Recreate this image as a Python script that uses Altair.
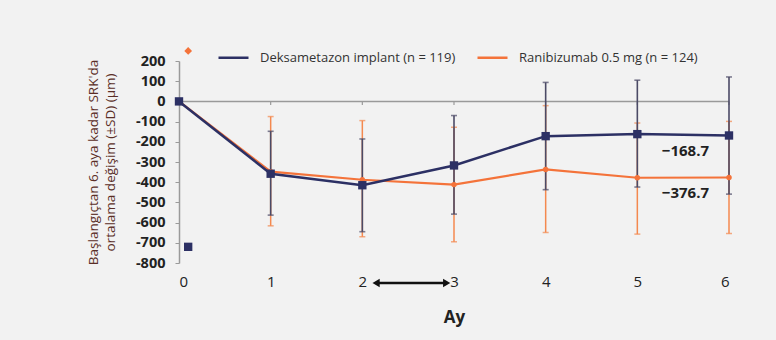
import altair as alt
import pandas as pd

months = [0, 1, 2, 3, 4, 5, 6]
dex_name = "Deksametazon implant (n = 119)"
ran_name = "Ranibizumab 0.5 mg (n = 124)"
dex_mean = [0, -358, -415, -317, -172, -162, -168.7]
dex_lo = [None, -563, -645, -558, -437, -424, -459]
dex_hi = [None, -148, -186, -70, 94, 105, 121]
ran_mean = [0, -348, -388, -412, -337, -378, -376.7]
ran_lo = [None, -616, -670, -695, -649, -657, -654]
ran_hi = [None, -75, -95, -128, -21, -107, -99]
end_labels = ["\u2212168.7", "\u2212376.7"]
y_ticks = list(range(-800, 201, 100))
stray_x = [0.1, 0.1]
stray_y = [250, -720]
arrow_x = [2.15, 2.92]

NAVY = "#2c3064"
ORANGE = "#f4733a"
FONT = "Open Sans"

dex = pd.DataFrame({"m": months, "v": dex_mean, "lo": dex_lo, "hi": dex_hi, "s": dex_name})
ran = pd.DataFrame({"m": months, "v": ran_mean, "lo": ran_lo, "hi": ran_hi, "s": ran_name})

xs = alt.Scale(domain=[0, 6], nice=False, zero=False)
ys = alt.Scale(domain=[-800, 200], nice=False)
cs = alt.Scale(domain=[dex_name, ran_name], range=[NAVY, ORANGE])

x_axis = alt.Axis(values=months, format="d", domain=False, ticks=False,
                  grid=False, labelFontSize=15, labelColor="#222", labelPadding=11, title="Ay",
                  titleFontSize=17, titleFontWeight="bold", titleColor="#222", titlePadding=20,
                  labelFont=FONT, titleFont=FONT)
y_axis = alt.Axis(values=y_ticks, grid=False, labelOverlap=False, tickCount=11,
                  labelExpr="datum.value < 0 ? '-' + abs(datum.value) : '' + datum.value",
                  domainColor="#9a9a9a", domainWidth=1.5, tickColor="#9a9a9a", tickSize=4,
                  labelFontSize=14.5, labelFontWeight="bold", labelColor="#222", labelPadding=10,
                  labelFont=FONT, titleFont=FONT,
                  title=["Başlangıçtan 6. aya kadar SRK'da", "ortalama değişim (±SD) (µm)"],
                  titleFontSize=13.5, titleFontWeight="normal", titleColor="#5a2e26",
                  titlePadding=18, titleLineHeight=17)

def XX(f="m:Q"):
    return alt.X(f, scale=xs, axis=x_axis)

def YY(f="v:Q"):
    return alt.Y(f, scale=ys, axis=y_axis)

base_d = alt.Chart(dex)
base_r = alt.Chart(ran)

zero = pd.DataFrame({"m": [0], "m2": [6], "v": [0]})
zero_rule = alt.Chart(zero).mark_rule(color="#9a9a9a", strokeWidth=1.5).encode(
    x=XX(), x2="m2:Q", y=YY())
zt = pd.DataFrame({"m": months[1:], "v": [0] * 6, "v2": [-18] * 6})
zero_ticks = alt.Chart(zt).mark_rule(color="#9a9a9a", strokeWidth=1.2).encode(
    x=XX(), y=YY(), y2="v2:Q")

def errs(base, color, width):
    r = base.mark_rule(color=color, strokeWidth=width).encode(
        x=XX(), y=YY("lo:Q"), y2="hi:Q")
    t1 = base.mark_tick(color=color, orient="horizontal", size=6, thickness=width).encode(
        x=XX(), y=YY("lo:Q"))
    t2 = base.mark_tick(color=color, orient="horizontal", size=6, thickness=width).encode(
        x=XX(), y=YY("hi:Q"))
    return r + t1 + t2

legend = alt.Legend(orient="none", legendX=38, legendY=-20, direction="horizontal", columns=2,
                    title=None, symbolType="stroke", symbolSize=900, symbolStrokeWidth=2.5,
                    labelFontSize=13, labelColor="#333", labelFont=FONT, labelLimit=400,
                    labelOffset=10, columnPadding=16)

ran_line = base_r.mark_line(strokeWidth=2.2).encode(
    x=XX(), y=YY(), color=alt.Color("s:N", scale=cs, legend=legend))
ran_pts = base_r.mark_circle(size=30, opacity=1, color=ORANGE).encode(x=XX(), y=YY())
dex_line = base_d.mark_line(strokeWidth=2.5).encode(
    x=XX(), y=YY(), color=alt.Color("s:N", scale=cs, legend=legend))
dex_pts = base_d.mark_square(size=70, opacity=1, color=NAVY).encode(x=XX(), y=YY())

lab = pd.DataFrame({"m": [6, 6], "v": [dex_mean[-1], ran_mean[-1]], "t": end_labels})
labels = alt.Chart(lab).mark_text(align="right", baseline="middle", dx=-20, dy=16,
                                  fontSize=15, fontWeight="bold", color="#222", font=FONT).encode(
    x=XX(), y=YY(), text="t:N")

stray = pd.DataFrame({"m": stray_x, "v": stray_y, "k": ["d", "s"]})
diamond = alt.Chart(stray[stray.k == "d"]).mark_point(shape="diamond", filled=True, size=60,
                                                     color=ORANGE, opacity=1).encode(x=XX(), y=YY())
square = alt.Chart(stray[stray.k == "s"]).mark_square(size=70, color=NAVY, opacity=1).encode(
    x=XX(), y=YY())

arr = pd.DataFrame({"m": [arrow_x[0]], "m2": [arrow_x[1]]})
arrow_line = alt.Chart(arr).mark_rule(color="#111", strokeWidth=2.5).encode(
    x=XX(), x2="m2:Q", y=alt.value(222))
ah = pd.DataFrame({"m": arrow_x, "sh": ["triangle-left", "triangle-right"]})
arrow_heads = alt.Chart(ah).mark_point(filled=True, size=70, opacity=1, color="#111").encode(
    x=XX(), y=alt.value(222),
    shape=alt.Shape("sh:N", scale=alt.Scale(domain=["triangle-left", "triangle-right"],
                                            range=["triangle-left", "triangle-right"]), legend=None))

chart = alt.layer(
    zero_rule, zero_ticks,
    errs(base_r, "#f4894f", 1.5), errs(base_d, "#4b4a66", 1.6),
    ran_line, ran_pts, dex_line, dex_pts, labels, diamond, square, arrow_line, arrow_heads,
).properties(
    width=550, height=202,
    autosize=alt.AutoSizeParams(type="none"),
    padding={"left": 179, "top": 61, "right": 47, "bottom": 77},
    background="#f2f2f2",
).configure_view(stroke=None)

chart.save("out.html", embed_options={"renderer": "svg", "actions": False})
